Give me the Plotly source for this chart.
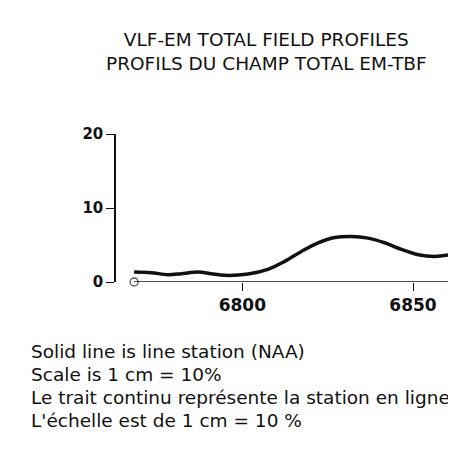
import plotly.graph_objects as go

# ---- data ----
stations = [6768.3, 6773.3, 6778.2, 6782.1, 6787.0, 6790.9, 6794.8, 6801.7,
            6807.5, 6812.4, 6817.3, 6822.2, 6827.1, 6832.0, 6836.8, 6841.7,
            6846.6, 6851.5, 6856.4, 6860.8]
total_field = [1.35, 1.26, 0.99, 1.12, 1.35, 1.12, 0.90, 1.08,
               1.71, 2.79, 4.13, 5.30, 6.02, 6.16, 5.93, 5.30,
               4.40, 3.69, 3.46, 3.69]
x_ticks = [6800, 6850]
y_ticks = [0, 10, 20]
title_lines = ["VLF-EM TOTAL FIELD PROFILES", "PROFILS DU CHAMP TOTAL EM-TBF"]
notes = ["Solid line is line station (NAA)",
         "Scale is 1 cm = 10%",
         "Le trait continu représente la station en ligne (NAA)",
         "L'échelle est de 1 cm = 10 %"]

FONT = "DejaVu Sans"
INK = "#111111"

fig = go.Figure()

# baseline of the profile (zero line from first to last station)
fig.add_trace(go.Scatter(
    x=[stations[0], stations[-1]], y=[0, 0], mode="lines+markers",
    line=dict(color=INK, width=1.3),
    marker=dict(symbol=["circle-open", "line-ns"], size=[8, 0], color=INK,
                line=dict(width=1.3, color=INK)),
    cliponaxis=False, hoverinfo="skip", showlegend=False))

# total field profile
fig.add_trace(go.Scatter(
    x=stations, y=total_field, mode="lines",
    line=dict(color=INK, width=3.5, shape="spline", smoothing=1.0),
    cliponaxis=False, showlegend=False))

W, H = 456, 457
L, R, T, B = 108, 10, 125.5, 183
pw, ph = W - L - R, H - T - B

def px_to_paper(px, py):
    return (px - L) / pw, (H - B - py) / ph

annotations = []
tx, ty = px_to_paper(258.5, 43)
annotations.append(dict(text="<br>".join(title_lines), x=tx, y=ty,
                        xref="paper", yref="paper", align="center",
                        xanchor="center", yanchor="middle", showarrow=False,
                        font=dict(family=FONT, size=18.5, color=INK)))
for text, cy in zip(notes, [344, 367, 390, 413]):
    ax, ay = px_to_paper(21, cy)
    annotations.append(dict(text=text, x=ax, y=ay, xref="paper", yref="paper",
                            xanchor="left", yanchor="middle", showarrow=False,
                            font=dict(family=FONT, size=18.5, color=INK)))

fig.update_layout(
    width=W, height=H,
    margin=dict(l=L, r=R, t=T, b=B, pad=0),
    paper_bgcolor="white", plot_bgcolor="white",
    font=dict(family=FONT, color=INK),
    annotations=annotations,
    xaxis=dict(range=[6763.0, 6862.0], showline=False, showgrid=False,
               zeroline=False, tickvals=x_ticks, ticks="outside", ticklen=8,
               tickwidth=1.3, tickcolor=INK,
               tickfont=dict(family=FONT, size=17, color=INK, weight="bold")),
    yaxis=dict(range=[0, 20], showline=True, linecolor=INK, linewidth=1.5,
               showgrid=False, zeroline=False, tickvals=y_ticks,
               ticks="outside", ticklen=8, tickwidth=1.3, tickcolor=INK,
               tickfont=dict(family=FONT, size=15, color=INK, weight="bold")),
)

fig.write_html("out.html")
